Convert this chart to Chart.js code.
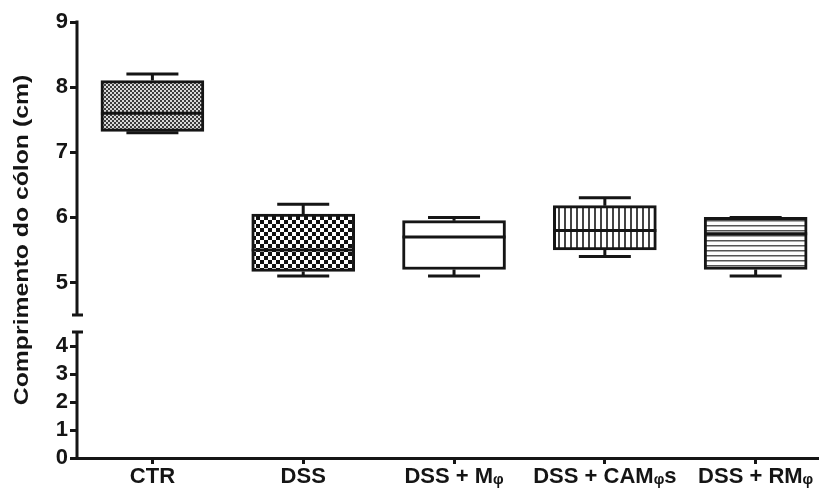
<!DOCTYPE html>
<html>
<head>
<meta charset="utf-8">
<script src="https://cdn.jsdelivr.net/npm/chart.js@4"></script>
<style>
  html, body { margin: 0; padding: 0; background: #fff; }
</style>
</head>
<body>
<canvas id="boxChart" width="819" height="488"></canvas>
<script>
const groups = ['CTR', 'DSS', 'DSS + Mᵩ', 'DSS + CAMᵩs', 'DSS + RMᵩ'];
const whiskerLow = [7.3, 5.1, 5.1, 5.4, 5.1];
const boxLow = [7.32, 5.17, 5.2, 5.5, 5.2];
const medians = [7.6, 5.5, 5.7, 5.8, 5.75];
const boxHigh = [8.1, 6.05, 5.95, 6.18, 6.0];
const whiskerHigh = [8.2, 6.2, 6.0, 6.3, 6.0];
const fills = ['fineCheck', 'check', 'plain', 'vLines', 'hLines'];
const upperTicks = [5, 6, 7, 8, 9];
const lowerTicks = [0, 1, 2, 3, 4];

const INK = '#151515';
const FONT = 'Arial, "Liberation Sans", sans-serif';

function makePattern(kind) {
  const c = document.createElement('canvas');
  const g = c.getContext('2d');
  if (kind === 'fineCheck') {
    c.width = c.height = 4;
    g.fillStyle = '#d8d8d8'; g.fillRect(0, 0, 4, 4);
    g.fillStyle = '#3c3c3c'; g.fillRect(0, 0, 2, 2); g.fillRect(2, 2, 2, 2);
  } else if (kind === 'check') {
    c.width = c.height = 8;
    g.fillStyle = '#fff'; g.fillRect(0, 0, 8, 8);
    g.fillStyle = '#111'; g.fillRect(0, 0, 4, 4); g.fillRect(4, 4, 4, 4);
  } else if (kind === 'vLines') {
    c.width = 6; c.height = 6;
    g.fillStyle = '#fff'; g.fillRect(0, 0, 6, 6);
    g.fillStyle = '#444'; g.fillRect(0, 0, 2, 6);
  } else if (kind === 'hLines') {
    c.width = 6; c.height = 5;
    g.fillStyle = '#fff'; g.fillRect(0, 0, 6, 5);
    g.fillStyle = '#555'; g.fillRect(0, 0, 6, 1.5);
  } else {
    return '#fff';
  }
  return g.createPattern(c, 'repeat');
}

// whiskers + median line on top of the floating bars
const boxExtras = {
  id: 'boxExtras',
  afterDatasetsDraw(chart) {
    const { ctx } = chart;
    const ys = chart.scales.y;
    const meta = chart.getDatasetMeta(0);
    ctx.save();
    ctx.strokeStyle = INK;
    ctx.lineWidth = 3;
    ctx.lineCap = 'butt';
    meta.data.forEach((bar, i) => {
      const half = bar.width / 2;
      const cap = 26;
      const yMed = ys.getPixelForValue(medians[i]);
      ctx.beginPath();
      ctx.moveTo(bar.x - half, yMed); ctx.lineTo(bar.x + half, yMed);
      const yHi = ys.getPixelForValue(whiskerHigh[i]);
      const yBoxHi = ys.getPixelForValue(boxHigh[i]);
      ctx.moveTo(bar.x, yBoxHi); ctx.lineTo(bar.x, yHi);
      ctx.moveTo(bar.x - cap, yHi); ctx.lineTo(bar.x + cap, yHi);
      const yLo = ys.getPixelForValue(whiskerLow[i]);
      const yBoxLo = ys.getPixelForValue(boxLow[i]);
      ctx.moveTo(bar.x, yBoxLo); ctx.lineTo(bar.x, yLo);
      ctx.moveTo(bar.x - cap, yLo); ctx.lineTo(bar.x + cap, yLo);
      ctx.stroke();
    });
    ctx.restore();
  },
};

// broken y axis: two segments with end caps, plus the rotated axis title
const brokenAxis = {
  id: 'brokenAxis',
  afterDraw(chart) {
    const { ctx, chartArea } = chart;
    const up = chart.scales.y;
    const low = chart.scales.yLow;
    const x = chartArea.left;
    ctx.save();
    ctx.strokeStyle = INK;
    ctx.lineWidth = 3;
    ctx.beginPath();
    const upTop = up.getPixelForValue(9) - 1.5;
    const upEnd = up.getPixelForValue(4.5);
    ctx.moveTo(x, upTop); ctx.lineTo(x, upEnd);
    ctx.moveTo(x - 5, upEnd); ctx.lineTo(x + 6, upEnd);
    const lowTop = low.getPixelForValue(4.5);
    const lowEnd = low.getPixelForValue(0);
    ctx.moveTo(x, lowTop); ctx.lineTo(x, lowEnd);
    ctx.moveTo(x - 5, lowTop); ctx.lineTo(x + 6, lowTop);
    ctx.stroke();

    ctx.translate(22, (chartArea.top + chartArea.bottom) / 2);
    ctx.rotate(-Math.PI / 2);
    ctx.scale(1.18, 1);
    ctx.fillStyle = INK;
    ctx.font = 'bold 21px ' + FONT;
    ctx.textAlign = 'center';
    ctx.textBaseline = 'middle';
    ctx.fillText('Comprimento do cólon (cm)', 0, 0);
    ctx.restore();
  },
};

function yAxis(min, max, weight, tickValues) {
  return {
    type: 'linear',
    position: 'left',
    stack: 'left',
    stackWeight: weight,
    min: min,
    max: max,
    border: { display: false },
    grid: {
      drawOnChartArea: false,
      drawTicks: true,
      tickLength: 7,
      tickWidth: 3,
      tickColor: INK,
    },
    ticks: {
      color: INK,
      padding: 2,
      autoSkip: false,
      font: { family: FONT, size: 22, weight: 'bold' },
    },
    afterBuildTicks: (scale) => {
      scale.ticks = tickValues.map((v) => ({ value: v }));
    },
    afterFit: (scale) => {
      scale.width = 77;
      scale.paddingTop = 0;
      scale.paddingBottom = 0;
    },
  };
}

const chart = new Chart(document.getElementById('boxChart'), {
  type: 'bar',
  data: {
    datasets: [
      {
        data: groups.map((g, i) => ({ x: i, y: [boxLow[i], boxHigh[i]] })),
        backgroundColor: fills.map(makePattern),
        borderColor: INK,
        borderWidth: 3,
        borderSkipped: false,
        barThickness: 103,
        xAxisID: 'x',
        yAxisID: 'y',
      },
    ],
  },
  options: {
    responsive: false,
    animation: false,
    layout: { padding: { top: 22, right: 0, left: 0, bottom: 0 } },
    plugins: {
      legend: { display: false },
      tooltip: { enabled: false },
    },
    scales: {
      x: {
        type: 'linear',
        position: 'bottom',
        offset: false,
        min: -0.5,
        max: 4.42,
        border: { color: INK, width: 3 },
        grid: {
          offset: false,
          drawOnChartArea: false,
          drawTicks: true,
          tickLength: 6,
          tickWidth: 3,
          tickColor: INK,
        },
        ticks: {
          color: INK,
          padding: 0,
          maxRotation: 0,
          autoSkip: false,
          font: { family: FONT, size: 22, weight: 'bold' },
          callback: (v) => groups[v] ?? '',
        },
        afterBuildTicks: (scale) => {
          scale.ticks = groups.map((g, i) => ({ value: i }));
        },
        afterFit: (scale) => {
          scale.height = 30;
          scale.paddingLeft = 0;
          scale.paddingRight = 0;
        },
      },
      yLow: yAxis(0, 4.5, 126, lowerTicks),
      y: yAxis(4.24, 9, 310, upperTicks),
    },
  },
  plugins: [boxExtras, brokenAxis],
});
</script>
</body>
</html>
